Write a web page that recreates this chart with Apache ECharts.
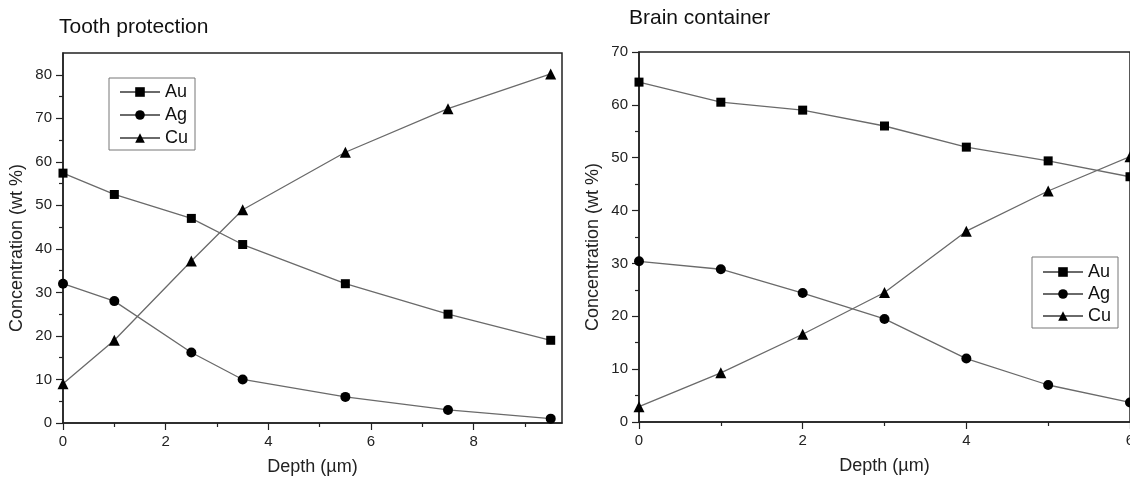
<!DOCTYPE html>
<html>
<head>
<meta charset="utf-8">
<script src="https://cdn.jsdelivr.net/npm/echarts@6/dist/echarts.min.js"></script>
<style>
html,body{margin:0;padding:0;background:#fff;}
#chart{width:1130px;height:483px;}
</style>
</head>
<body>
<div id="chart"></div>
<script>
// ---- Data ----
const seriesNames = ['Au', 'Ag', 'Cu'];

// Tooth protection
const toothDepth = [0, 1, 2.5, 3.5, 5.5, 7.5, 9.5];
const toothAu = [57.4, 52.5, 47.0, 41.0, 32.0, 25.0, 19.0];
const toothAg = [32.0, 28.0, 16.2, 10.0, 6.0, 3.0, 1.0];
const toothCu = [9.0, 19.0, 37.2, 49.0, 62.2, 72.2, 80.2];
const toothXTicks = [0, 2, 4, 6, 8];
const toothXMinor = [1, 3, 5, 7, 9];
const toothYTicks = [0, 10, 20, 30, 40, 50, 60, 70, 80];
const toothYMinor = [5, 15, 25, 35, 45, 55, 65, 75];

// Brain container
const brainDepth = [0, 1, 2, 3, 4, 5, 6];
const brainAu = [64.3, 60.5, 59.0, 56.0, 52.0, 49.4, 46.4];
const brainAg = [30.4, 28.9, 24.4, 19.5, 12.0, 7.0, 3.7];
const brainCu = [2.9, 9.3, 16.6, 24.5, 36.1, 43.7, 50.2];
const brainXTicks = [0, 2, 4, 6];
const brainXMinor = [1, 3, 5];
const brainYTicks = [0, 10, 20, 30, 40, 50, 60, 70];
const brainYMinor = [5, 15, 25, 35, 45, 55, 65];

const titles = ['Tooth protection', 'Brain container'];
const xName = 'Depth (\u00b5m)';
const yName = 'Concentration (wt %)';

// ---- Styles ----
const FONT = "'Liberation Sans', Arial, sans-serif";
const AXIS_COLOR = '#222';
const LINE_COLOR = '#6a6a6a';
const symbols = ['rect', 'circle', 'triangle'];
const symbolSizes = [9, 10, 11];

function majorX(grid, ticks, max, showName) {
  return {
    type: 'value', gridIndex: grid, position: 'bottom', min: 0, max: max,
    name: showName ? xName : '', nameLocation: 'middle', nameGap: 35,
    nameTextStyle: { fontFamily: FONT, fontSize: 18, color: '#222' },
    axisLine: { show: true, onZero: false, lineStyle: { color: AXIS_COLOR, width: 1.5 } },
    axisTick: { show: true, inside: false, length: 7, customValues: ticks, lineStyle: { color: AXIS_COLOR, width: 1.2 } },
    axisLabel: { show: true, margin: 11, customValues: ticks, fontFamily: FONT, fontSize: 15, color: '#222' },
    splitLine: { show: false }, minorTick: { show: false }
  };
}
function minorX(grid, ticks, max) {
  return {
    type: 'value', gridIndex: grid, position: 'bottom', min: 0, max: max,
    axisLine: { show: false, onZero: false },
    axisTick: { show: true, inside: false, length: 4, customValues: ticks, lineStyle: { color: AXIS_COLOR, width: 1.2 } },
    axisLabel: { show: false }, splitLine: { show: false }
  };
}
function majorY(grid, ticks, max) {
  return {
    type: 'value', gridIndex: grid, position: 'left', min: 0, max: max,
    name: yName, nameLocation: 'middle', nameGap: 37, nameRotate: 90,
    nameTextStyle: { fontFamily: FONT, fontSize: 18, color: '#222', padding: [0, 20, 0, 0] },
    axisLine: { show: true, onZero: false, lineStyle: { color: AXIS_COLOR, width: 1.5 } },
    axisTick: { show: true, inside: false, length: 7, customValues: ticks, lineStyle: { color: AXIS_COLOR, width: 1.2 } },
    axisLabel: { show: true, margin: 11, customValues: ticks, fontFamily: FONT, fontSize: 15, color: '#222' },
    splitLine: { show: false }
  };
}
function minorY(grid, ticks, max) {
  return {
    type: 'value', gridIndex: grid, position: 'left', min: 0, max: max,
    axisLine: { show: false, onZero: false },
    axisTick: { show: true, inside: false, length: 4, customValues: ticks, lineStyle: { color: AXIS_COLOR, width: 1.2 } },
    axisLabel: { show: false }, splitLine: { show: false }
  };
}
function mkSeries(name, idx, xs, ys, axisIdx) {
  return {
    type: 'line', name: name, xAxisIndex: axisIdx, yAxisIndex: axisIdx,
    data: xs.map((x, i) => [x, ys[i]]),
    symbol: symbols[idx], symbolSize: symbolSizes[idx], showSymbol: true,
    lineStyle: { color: LINE_COLOR, width: 1.3 },
    itemStyle: { color: '#000', borderWidth: 0 },
    emphasis: { disabled: true }, animation: false, z: 3
  };
}

const chart = echarts.init(document.getElementById('chart'), null, { renderer: 'canvas' });
const option = {
  backgroundColor: '#fff',
  animation: false,
  title: [
    { text: titles[0], left: 59, top: 17, padding: 0, textStyle: { fontFamily: FONT, fontSize: 21, fontWeight: 'normal', color: '#111' } },
    { text: titles[1], left: 629, top: 8, padding: 0, textStyle: { fontFamily: FONT, fontSize: 21, fontWeight: 'normal', color: '#111' } }
  ],
  legend: [
    {
      data: seriesNames, left: 109, top: 78, orient: 'vertical',
      itemWidth: 40, itemHeight: 12, itemGap: 5, padding: [5, 7, 3, 10],
      borderColor: '#777', borderWidth: 1, backgroundColor: '#fff',
      textStyle: { fontFamily: FONT, fontSize: 18, color: '#111' },
      selectedMode: false
    },
    {
      data: seriesNames, left: 1032, top: 257, orient: 'vertical',
      itemWidth: 40, itemHeight: 12, itemGap: 4, padding: [6, 7, 3, 10],
      borderColor: '#777', borderWidth: 1, backgroundColor: '#fff',
      textStyle: { fontFamily: FONT, fontSize: 18, color: '#111' },
      selectedMode: false
    }
  ],
  grid: [
    { left: 63, top: 53, width: 499, height: 370, show: true, borderColor: AXIS_COLOR, borderWidth: 1.5, backgroundColor: 'transparent', containLabel: false, outerBoundsMode: 'none' },
    { left: 639, top: 52, width: 491, height: 370, show: true, borderColor: AXIS_COLOR, borderWidth: 1.5, backgroundColor: 'transparent', containLabel: false, outerBoundsMode: 'none' }
  ],
  xAxis: [
    majorX(0, toothXTicks, 9.72, true),
    minorX(0, toothXMinor, 9.72),
    majorX(1, brainXTicks, 6, true),
    minorX(1, brainXMinor, 6)
  ],
  yAxis: [
    majorY(0, toothYTicks, 85),
    minorY(0, toothYMinor, 85),
    majorY(1, brainYTicks, 70),
    minorY(1, brainYMinor, 70)
  ],
  series: [
    mkSeries('Au', 0, toothDepth, toothAu, 0),
    mkSeries('Ag', 1, toothDepth, toothAg, 0),
    mkSeries('Cu', 2, toothDepth, toothCu, 0),
    mkSeries('Au', 0, brainDepth, brainAu, 2),
    mkSeries('Ag', 1, brainDepth, brainAg, 2),
    mkSeries('Cu', 2, brainDepth, brainCu, 2)
  ]
};
chart.setOption(option);
</script>
</body>
</html>
